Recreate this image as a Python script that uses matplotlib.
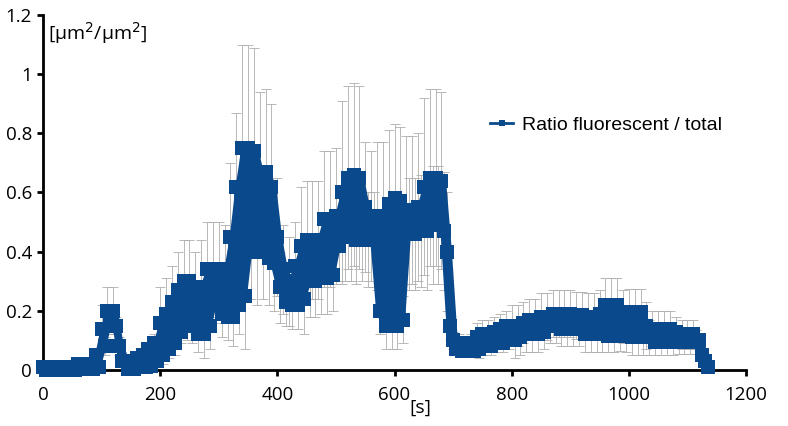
import matplotlib
matplotlib.use('Agg')
import matplotlib.pyplot as plt
import numpy as np

# time grid [s]; each bin holds two frames (a: high, b: low) 5 s apart
time_s = np.arange(0, 1131, 10)
frame_dt = 5

ratio_a = [0.01, 0.01, 0.01, 0.01, 0.01, 0.01, 0.02, 0.02, 0.02, 0.05,
           0.14, 0.20, 0.20, 0.08, 0.03, 0.03, 0.04, 0.05, 0.07, 0.09,
           0.16, 0.19, 0.23, 0.27, 0.30, 0.30, 0.26, 0.28, 0.34, 0.34,
           0.34, 0.33, 0.45, 0.62, 0.75, 0.75, 0.74, 0.66, 0.67, 0.62,
           0.45, 0.34, 0.30, 0.35, 0.42, 0.44, 0.44, 0.44, 0.51, 0.51,
           0.52, 0.60, 0.65, 0.66, 0.65, 0.55, 0.52, 0.52, 0.52, 0.56,
           0.58, 0.57, 0.54, 0.54, 0.55, 0.62, 0.65, 0.65, 0.64, 0.40,
           0.10, 0.09, 0.08, 0.09, 0.11, 0.12, 0.12, 0.13, 0.14, 0.15,
           0.15, 0.15, 0.16, 0.17, 0.17, 0.18, 0.18, 0.19, 0.19, 0.19,
           0.19, 0.185, 0.185, 0.18, 0.18, 0.19, 0.22, 0.22, 0.22, 0.18,
           0.195, 0.195, 0.195, 0.15, 0.14, 0.14, 0.14, 0.14, 0.13, 0.12,
           0.12, 0.12, 0.10, 0.03]
ratio_b = [0.0, 0.0, 0.0, 0.0, 0.0, 0.0, 0.005, 0.005, 0.005, 0.01,
           0.08, 0.17, 0.15, 0.03, 0.005, 0.005, 0.01, 0.01, 0.015, 0.03,
           0.05, 0.07, 0.09, 0.13, 0.16, 0.15, 0.12, 0.12, 0.15, 0.24,
           0.19, 0.18, 0.18, 0.22, 0.25, 0.42, 0.40, 0.40, 0.38, 0.36,
           0.28, 0.23, 0.22, 0.22, 0.24, 0.30, 0.30, 0.31, 0.31, 0.32,
           0.42, 0.45, 0.45, 0.44, 0.45, 0.44, 0.44, 0.20, 0.15, 0.15,
           0.15, 0.17, 0.46, 0.46, 0.47, 0.47, 0.49, 0.49, 0.47, 0.15,
           0.07, 0.065, 0.065, 0.065, 0.07, 0.08, 0.08, 0.09, 0.09, 0.10,
           0.10, 0.11, 0.12, 0.12, 0.12, 0.13, 0.15, 0.15, 0.14, 0.14,
           0.14, 0.14, 0.12, 0.12, 0.12, 0.12, 0.115, 0.115, 0.12, 0.115,
           0.11, 0.11, 0.11, 0.11, 0.095, 0.095, 0.095, 0.095, 0.095, 0.095,
           0.095, 0.095, 0.05, 0.01]
err_a = [0.005, 0.005, 0.005, 0.005, 0.005, 0.005, 0.005, 0.005, 0.005, 0.02,
         0.08, 0.08, 0.08, 0.03, 0.015, 0.015, 0.015, 0.015, 0.015, 0.03,
         0.12, 0.12, 0.12, 0.13, 0.14, 0.14, 0.14, 0.16, 0.16, 0.16,
         0.16, 0.16, 0.25, 0.25, 0.35, 0.35, 0.35, 0.28, 0.28, 0.28,
         0.20, 0.15, 0.15, 0.15, 0.20, 0.20, 0.20, 0.20, 0.23, 0.23,
         0.23, 0.31, 0.31, 0.31, 0.31, 0.22, 0.22, 0.25, 0.25, 0.25,
         0.25, 0.25, 0.25, 0.25, 0.25, 0.30, 0.30, 0.30, 0.30, 0.20,
         0.03, 0.03, 0.03, 0.03, 0.05, 0.05, 0.05, 0.05, 0.05, 0.05,
         0.07, 0.07, 0.07, 0.07, 0.07, 0.08, 0.08, 0.08, 0.08, 0.08,
         0.08, 0.08, 0.08, 0.08, 0.08, 0.08, 0.09, 0.09, 0.09, 0.09,
         0.08, 0.08, 0.08, 0.08, 0.06, 0.06, 0.06, 0.06, 0.05, 0.05,
         0.05, 0.05, 0.02, 0.02]
err_b = [0.005, 0.005, 0.005, 0.005, 0.005, 0.005, 0.005, 0.005, 0.005, 0.01,
         0.03, 0.03, 0.03, 0.02, 0.01, 0.01, 0.01, 0.01, 0.01, 0.01,
         0.03, 0.03, 0.04, 0.04, 0.06, 0.06, 0.06, 0.08, 0.08, 0.08,
         0.08, 0.08, 0.10, 0.10, 0.18, 0.18, 0.18, 0.16, 0.16, 0.16,
         0.12, 0.08, 0.08, 0.08, 0.12, 0.12, 0.12, 0.12, 0.12, 0.12,
         0.12, 0.15, 0.15, 0.15, 0.15, 0.16, 0.16, 0.08, 0.08, 0.08,
         0.08, 0.08, 0.19, 0.19, 0.19, 0.20, 0.20, 0.20, 0.20, 0.05,
         0.02, 0.02, 0.02, 0.02, 0.03, 0.03, 0.03, 0.03, 0.03, 0.03,
         0.06, 0.06, 0.06, 0.06, 0.06, 0.06, 0.06, 0.06, 0.06, 0.06,
         0.06, 0.06, 0.06, 0.06, 0.06, 0.06, 0.055, 0.055, 0.055, 0.055,
         0.06, 0.06, 0.06, 0.06, 0.045, 0.045, 0.045, 0.045, 0.04, 0.04,
         0.04, 0.04, 0.02, 0.02]

x_ticks = [0, 200, 400, 600, 800, 1000, 1200]
y_ticks = [0, 0.2, 0.4, 0.6, 0.8, 1.0, 1.2]
y_ticklabels = ['0', '0.2', '0.4', '0.6', '0.8', '1', '1.2']

# interleave the two frames of every bin
n = len(time_s)
t = np.empty(2 * n)
t[0::2] = time_s
t[1::2] = time_s + frame_dt
ratio = np.empty(2 * n)
ratio[0::2] = ratio_a
ratio[1::2] = ratio_b
err = np.empty(2 * n)
err[0::2] = err_a
err[1::2] = err_b

blue = '#0a4a8c'

fig = plt.figure(figsize=(7.88, 4.26), dpi=100)
ax = fig.add_axes([0.0546, 0.1315, 0.8921, 0.8333])

ax.errorbar(t, ratio, yerr=err, fmt='none', ecolor='#adadad', elinewidth=0.6,
            capsize=3.5, capthick=0.6, zorder=1, clip_on=False)
# frames alternate faster than the pixels can show, so the trace reads as a band
ax.fill_between(time_s + frame_dt / 2, ratio_b, ratio_a, facecolor=blue,
                edgecolor=blue, lw=4, joinstyle='round', zorder=2, clip_on=False)
line, = ax.plot(t, ratio, '-s', color=blue, ms=10, mew=0, lw=3,
                solid_joinstyle='round', label='Ratio fluorescent / total',
                zorder=3, clip_on=False)

ax.set_xlim(0, 1200)
ax.set_ylim(0, 1.2)
ax.set_xticks(x_ticks)
ax.set_yticks(y_ticks)
ax.set_yticklabels(y_ticklabels)

for s in ['top', 'right']:
    ax.spines[s].set_visible(False)
for s in ['left', 'bottom']:
    ax.spines[s].set_linewidth(2)
ax.tick_params(axis='both', width=2, length=4.5, labelsize=13.5, direction='out')
ax.tick_params(axis='x', pad=7)
ax.tick_params(axis='y', pad=3.5)
for lab in ax.get_xticklabels() + ax.get_yticklabels():
    lab.set_family('Open Sans')

ax.text(0.537, -0.107, '[s]', transform=ax.transAxes, ha='center', va='center',
        fontsize=14, family='Open Sans')
ax.text(0.007, 0.985, '[µm$^2$/µm$^2$]', transform=ax.transAxes, ha='left', va='top',
        fontsize=14, family=['Open Sans', 'DejaVu Sans'])

leg = ax.legend(loc='center left', bbox_to_anchor=(0.636, 0.69), frameon=False,
                prop={'family': 'Liberation Sans', 'size': 14},
                handlelength=1.2, handletextpad=0.45, borderpad=0, borderaxespad=0)
for h in leg.legend_handles:
    h.set_markersize(5)
    h.set_linewidth(2)

fig.savefig('out.png', dpi=100)
